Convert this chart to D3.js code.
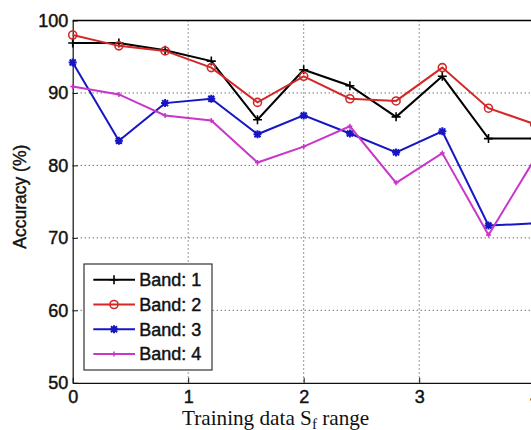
<!DOCTYPE html>
<html>
<head>
<meta charset="utf-8">
<script src="https://cdn.jsdelivr.net/npm/d3@7"></script>
<style>
  html, body { margin: 0; padding: 0; background: #fff; }
  svg { display: block; }
</style>
</head>
<body>
<svg id="chart" width="531" height="430"></svg>
<script>
// ---- data ----
const xValues = [0, 0.4, 0.8, 1.2, 1.6, 2.0, 2.4, 2.8, 3.2, 3.6, 4.0];
const band1 = [96.9, 96.9, 95.9, 94.4, 86.3, 93.2, 91.0, 86.7, 92.3, 83.7, 83.7];
const band2 = [98.0, 96.5, 95.8, 93.5, 88.7, 92.3, 89.2, 88.9, 93.5, 87.9, 85.7];
const band3 = [94.2, 83.4, 88.6, 89.2, 84.3, 86.9, 84.4, 81.8, 84.7, 71.7, 72.0];
const band4 = [90.9, 89.8, 86.9, 86.2, 80.4, 82.6, 85.4, 77.6, 81.7, 70.4, 80.9];
const seriesNames = ["Band: 1", "Band: 2", "Band: 3", "Band: 4"];
const xTicks = [0, 1, 2, 3, 4];
const yTicks = [50, 60, 70, 80, 90, 100];
const xLabelMain = "Training data S";
const xLabelSub = "f";
const xLabelEnd = " range";
const yLabel = "Accuracy (%)";

// ---- styles ----
const colors = ["#000000", "#d22828", "#1616c4", "#c936c9"];
const markers = ["plus", "circle", "star", "dot"];

const svg = d3.select("#chart");
const pLeft = 72.7, pRight = 534.7, pTop = 20.5, pBottom = 382.8;

const x = d3.scaleLinear().domain([0, 4]).range([pLeft, pRight]);
const y = d3.scaleLinear().domain([50, 100]).range([pBottom, pTop]);

// grid
const grid = svg.append("g");
grid.selectAll("line.gx").data(xTicks.filter(t => t > 0 && t < 4)).join("line")
  .attr("x1", d => x(d)).attr("x2", d => x(d))
  .attr("y1", pTop).attr("y2", pBottom)
  .attr("stroke", "#333").attr("stroke-width", 1).attr("stroke-dasharray", "1,3");
grid.selectAll("line.gy").data(yTicks.filter(t => t > 50 && t < 100)).join("line")
  .attr("x1", pLeft).attr("x2", pRight)
  .attr("y1", d => y(d)).attr("y2", d => y(d))
  .attr("stroke", "#333").attr("stroke-width", 1).attr("stroke-dasharray", "1,3");

// axes
const fontAxis = "'Liberation Sans', Arial, sans-serif";
const xAxis = svg.append("g").attr("transform", `translate(0,${pBottom})`)
  .call(d3.axisBottom(x).tickValues(xTicks).tickFormat(d3.format("d")).tickSize(-5).tickSizeOuter(0).tickPadding(7.5));
const yAxis = svg.append("g").attr("transform", `translate(${pLeft},0)`)
  .call(d3.axisLeft(y).tickValues(yTicks).tickFormat(d3.format("d")).tickSize(-5).tickSizeOuter(0).tickPadding(4.4));
[xAxis, yAxis].forEach(g => {
  g.select(".domain").attr("stroke", "#111").attr("stroke-width", 1.2);
  g.selectAll(".tick line").attr("stroke", "#111");
  g.selectAll(".tick text").attr("font-family", fontAxis).attr("font-size", 18).attr("fill", "#111")
    .attr("stroke", "#111").attr("stroke-width", 0.45);
});
// top / right border
svg.append("line").attr("x1", pLeft).attr("x2", pRight).attr("y1", pTop).attr("y2", pTop)
  .attr("stroke", "#000").attr("stroke-width", 1.3);
svg.append("line").attr("x1", pRight).attr("x2", pRight).attr("y1", pTop).attr("y2", pBottom)
  .attr("stroke", "#000").attr("stroke-width", 1.3);

// marker drawing
function drawMarker(g, type, color) {
  if (type === "plus") {
    g.append("path").attr("d", "M-4.5,0H4.5M0,-4.5V4.5").attr("stroke", color).attr("stroke-width", 1.6).attr("fill", "none");
  } else if (type === "circle") {
    g.append("circle").attr("r", 4).attr("stroke", color).attr("stroke-width", 1.6).attr("fill", "none");
  } else if (type === "star") {
    g.append("path").attr("d", "M-4,0H4M0,-4V4M-3,-3L3,3M-3,3L3,-3").attr("stroke", color).attr("stroke-width", 2).attr("fill", "none");
    g.append("circle").attr("r", 2).attr("fill", color);
  } else {
    g.append("path").attr("d", "M-2.5,0H2.5M0,-2.5V2.5").attr("stroke", color).attr("stroke-width", 1.5).attr("fill", "none");
  }
}

// series
const allSeries = [band1, band2, band3, band4];
const lineGen = d3.line().x(d => x(d[0])).y(d => y(d[1]));
allSeries.forEach((vals, i) => {
  const pts = xValues.map((xv, j) => [xv, vals[j]]);
  const g = svg.append("g");
  g.append("path").datum(pts).attr("d", lineGen)
    .attr("fill", "none").attr("stroke", colors[i]).attr("stroke-width", 2).attr("stroke-linejoin", "miter");
  pts.forEach(p => {
    const mg = g.append("g").attr("transform", `translate(${x(p[0])},${y(p[1])})`);
    drawMarker(mg, markers[i], colors[i]);
  });
});

// legend
const lg = svg.append("g");
lg.append("rect").attr("x", 84).attr("y", 264).attr("width", 128).attr("height", 106)
  .attr("fill", "#fff").attr("stroke", "#333").attr("stroke-width", 1.2);
seriesNames.forEach((name, i) => {
  const cy = 279.7 + i * 24.8;
  lg.append("line").attr("x1", 93.3).attr("x2", 135).attr("y1", cy).attr("y2", cy)
    .attr("stroke", colors[i]).attr("stroke-width", 2);
  const mg = lg.append("g").attr("transform", `translate(114,${cy})`);
  drawMarker(mg, markers[i], colors[i]);
  lg.append("text").attr("x", 139.3).attr("y", cy).attr("dy", "0.35em")
    .attr("font-family", fontAxis).attr("font-size", 18).attr("fill", "#111")
    .attr("stroke", "#111").attr("stroke-width", 0.45).text(name);
});

// axis labels
svg.append("text").attr("transform", "translate(25.5,196.7) rotate(-90)")
  .attr("text-anchor", "middle").attr("font-family", fontAxis).attr("font-size", 17.5)
  .attr("fill", "#111").attr("stroke", "#111").attr("stroke-width", 0.4).text(yLabel);

const xl = svg.append("text").attr("x", 182).attr("y", 424.5)
  .attr("font-family", "'Liberation Serif', 'Times New Roman', serif").attr("font-size", 21.2).attr("fill", "#111");
xl.append("tspan").text(xLabelMain);
xl.append("tspan").attr("dy", 4).attr("font-size", 15).text(xLabelSub);
xl.append("tspan").attr("dy", -4).text(xLabelEnd);
</script>
</body>
</html>
